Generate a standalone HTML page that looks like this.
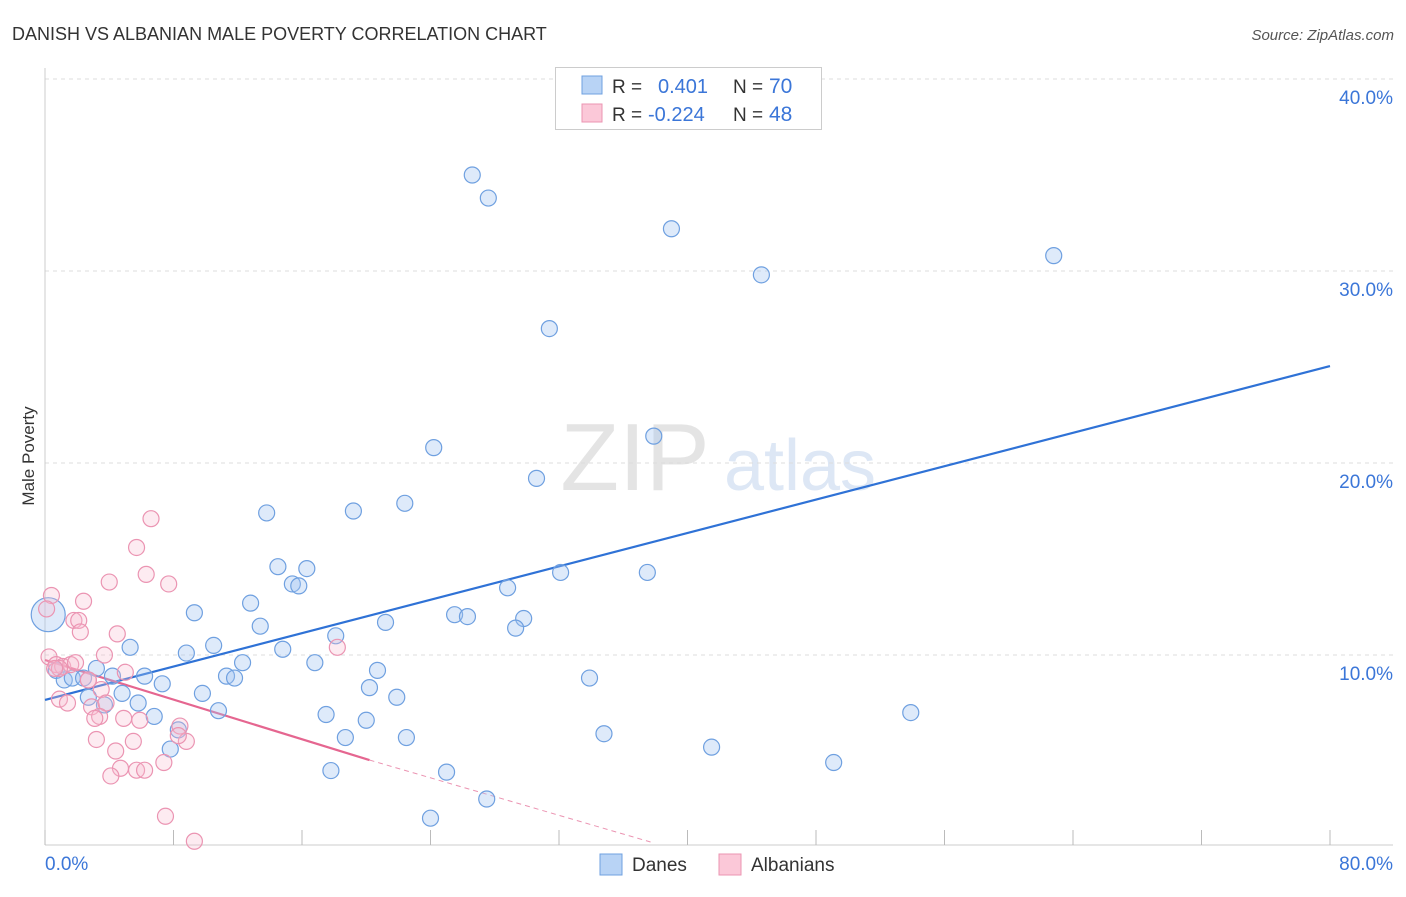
<!DOCTYPE html>
<html><head><meta charset="utf-8"><style>
body{margin:0;background:#fff;font-family:"Liberation Sans",sans-serif;}
svg text{font-family:"Liberation Sans",sans-serif;}
</style></head><body>
<svg id="chart" width="1406" height="892" xmlns="http://www.w3.org/2000/svg">
<text x="12" y="40" font-size="18" fill="#333">DANISH VS ALBANIAN MALE POVERTY CORRELATION CHART</text>
<text x="1394" y="40" font-size="15" fill="#555" text-anchor="end" font-style="italic">Source: ZipAtlas.com</text>
<text x="34" y="456" font-size="17" fill="#333" transform="rotate(-90 34 456)" text-anchor="middle">Male Poverty</text>
<text x="635" y="490" font-size="96" fill="#e4e4e4" font-family="Liberation Serif" text-anchor="middle">ZIP</text>
<text x="800" y="490" font-size="72" fill="#dde7f5" text-anchor="middle">atlas</text>
<g id="grid"></g><g id="axes"></g><g id="lines"></g><g id="pts"></g>
<g>
<rect x="555.5" y="67.5" width="266" height="62" fill="#fff" stroke="#ccc"/>
<rect x="582" y="76" width="20" height="18" fill="#b8d3f5" stroke="#6fa0e0"/>
<rect x="582" y="104" width="20" height="18" fill="#fbc8d8" stroke="#eb94b2"/>
<text x="612" y="93" font-size="19" fill="#333">R = </text><text x="658" y="93" font-size="20" fill="#3b76d8">0.401</text>
<text x="733" y="93" font-size="19" fill="#333">N = </text><text x="769" y="93" font-size="21" fill="#3b76d8">70</text>
<text x="612" y="121" font-size="19" fill="#333">R = </text><text x="648" y="121" font-size="20" fill="#3b76d8">-0.224</text>
<text x="733" y="121" font-size="19" fill="#333">N = </text><text x="769" y="121" font-size="21" fill="#3b76d8">48</text>
</g>
<g>
<rect x="600" y="854" width="22" height="21" fill="#b8d3f5" stroke="#6fa0e0"/>
<text x="632" y="871" font-size="19" fill="#333">Danes</text>
<rect x="719" y="854" width="22" height="21" fill="#fbc8d8" stroke="#eb94b2"/>
<text x="751" y="871" font-size="19" fill="#333">Albanians</text>
</g>
</svg>
<script>
const yTicks=[10,20,30,40];
const yTickLabels=["10.0%","20.0%","30.0%","40.0%"];
const xTicks=[0,8,16,24,32,40,48,56,64,72,80];
const danesX=[26.6,27.6,39.0,44.6,62.8,31.4,24.2,37.9,30.6,22.4,13.8,19.2,14.5,16.3,15.4,15.8,32.1,37.5,28.8,9.3,12.8,25.5,26.3,29.8,29.3,21.2,13.4,18.1,10.5,5.3,8.8,14.8,16.8,12.3,20.7,3.2,0.7,1.2,1.7,2.4,4.2,6.2,7.3,11.3,11.8,20.2,21.9,33.9,9.8,4.8,2.7,5.8,3.7,10.8,17.5,6.8,20.0,53.9,8.3,18.7,22.5,34.8,7.8,41.5,17.8,25.0,49.1,27.5,24.0,0.2];
const danesY=[35.0,33.8,32.2,29.8,30.8,27.0,20.8,21.4,19.2,17.9,17.4,17.5,14.6,14.5,13.7,13.6,14.3,14.3,13.5,12.2,12.7,12.1,12.0,11.9,11.4,11.7,11.5,11.0,10.5,10.4,10.1,10.3,9.6,9.6,9.2,9.3,9.2,8.7,8.8,8.8,8.9,8.9,8.5,8.9,8.8,8.3,7.8,8.8,8.0,8.0,7.8,7.5,7.4,7.1,6.9,6.8,6.6,7.0,6.1,5.7,5.7,5.9,5.1,5.2,3.98,3.9,4.4,2.5,1.5,12.1];
const danesR=[8,8,8,8,8,8,8,8,8,8,8,8,8,8,8,8,8,8,8,8,8,8,8,8,8,8,8,8,8,8,8,8,8,8,8,8,8,8,8,8,8,8,8,8,8,8,8,8,8,8,8,8,8,8,8,8,8,8,8,8,8,8,8,8,8,8,8,8,8,17];
const albX=[0.4,2.4,6.6,5.7,4.0,6.3,7.7,1.8,2.1,2.2,4.5,18.2,0.25,0.7,1.1,1.6,0.9,1.9,3.7,2.7,5.0,3.5,0.9,1.4,2.9,3.8,3.4,3.1,4.9,5.9,8.4,3.2,5.5,8.8,8.3,4.4,4.7,5.7,6.2,4.1,7.4,7.5,9.3,2.7,0.6,0.1];
const albY=[13.1,12.8,17.1,15.6,13.8,14.2,13.7,11.8,11.8,11.2,11.1,10.4,9.9,9.5,9.4,9.5,9.3,9.6,10.0,8.7,9.1,8.2,7.7,7.5,7.3,7.5,6.8,6.7,6.7,6.6,6.3,5.6,5.5,5.5,5.8,5.0,4.1,4.0,4.0,3.7,4.4,1.6,0.3,8.7,9.3,12.4];
const blueTrendX=[0,80], blueTrendY=[7.66,25.05];
const pinkSolidX=[0,20.2], pinkSolidY=[9.74,4.53];
const pinkDashX=[20.2,37.7], pinkDashY=[4.53,0.26];
const X=v=>45+v*16.0625, Y=v=>847-v*19.2;
const NS="http://www.w3.org/2000/svg";
function mk(tag,attrs,parent){const e=document.createElementNS(NS,tag);for(const k in attrs)e.setAttribute(k,attrs[k]);document.getElementById(parent).appendChild(e);return e;}
yTicks.forEach((t,i)=>{
 const l=mk('line',{x1:45,x2:1393,y1:Y(t),y2:Y(t),stroke:'#ddd','stroke-dasharray':'4,4'},'grid');
 
 
 const tx=mk('text',{x:1393,y:Y(t)+25,'font-size':19,fill:'#3b76d8','text-anchor':'end'},'axes');
 tx.textContent=yTickLabels[i];
 
 
});
const ax=mk('line',{x1:45,x2:1393,y1:845,y2:845,stroke:'#ccc'},'axes');


const ay=mk('line',{x1:45,x2:45,y1:68,y2:845,stroke:'#ccc'},'axes');


xTicks.forEach(t=>{
 const l=mk('line',{x1:X(t),x2:X(t),y1:830,y2:845,stroke:'#bbb'},'axes');
 
 
});
const xl0=mk('text',{x:45,y:870,'font-size':19,fill:'#3b76d8'},'axes');xl0.textContent='0.0%';


const xl1=mk('text',{x:1393,y:870,'font-size':19,fill:'#3b76d8','text-anchor':'end'},'axes');xl1.textContent='80.0%';


danesX.forEach((v,i)=>{
 const c=mk('circle',{cx:X(v),cy:Y(danesY[i]),r:danesR[i],fill:'rgba(160,196,240,0.35)',stroke:'#6fa0e0','stroke-width':1.2},'pts');
 
 
});
albX.forEach((v,i)=>{
 const c=mk('circle',{cx:X(v),cy:Y(albY[i]),r:8,fill:'rgba(250,190,210,0.3)',stroke:'#eb94b2','stroke-width':1.2},'pts');
 
 
});
const bl=mk('line',{x1:X(blueTrendX[0]),y1:Y(blueTrendY[0]),x2:X(blueTrendX[1]),y2:Y(blueTrendY[1]),stroke:'#2f72d6','stroke-width':2.2},'lines');


const pl=mk('line',{x1:X(pinkSolidX[0]),y1:Y(pinkSolidY[0]),x2:X(pinkSolidX[1]),y2:Y(pinkSolidY[1]),stroke:'#e56690','stroke-width':2.2},'lines');


const pd=mk('line',{x1:X(pinkDashX[0]),y1:Y(pinkDashY[0]),x2:X(pinkDashX[1]),y2:Y(pinkDashY[1]),stroke:'#eb94b2','stroke-width':1,'stroke-dasharray':'5,4'},'lines');


</script>
</body></html>
